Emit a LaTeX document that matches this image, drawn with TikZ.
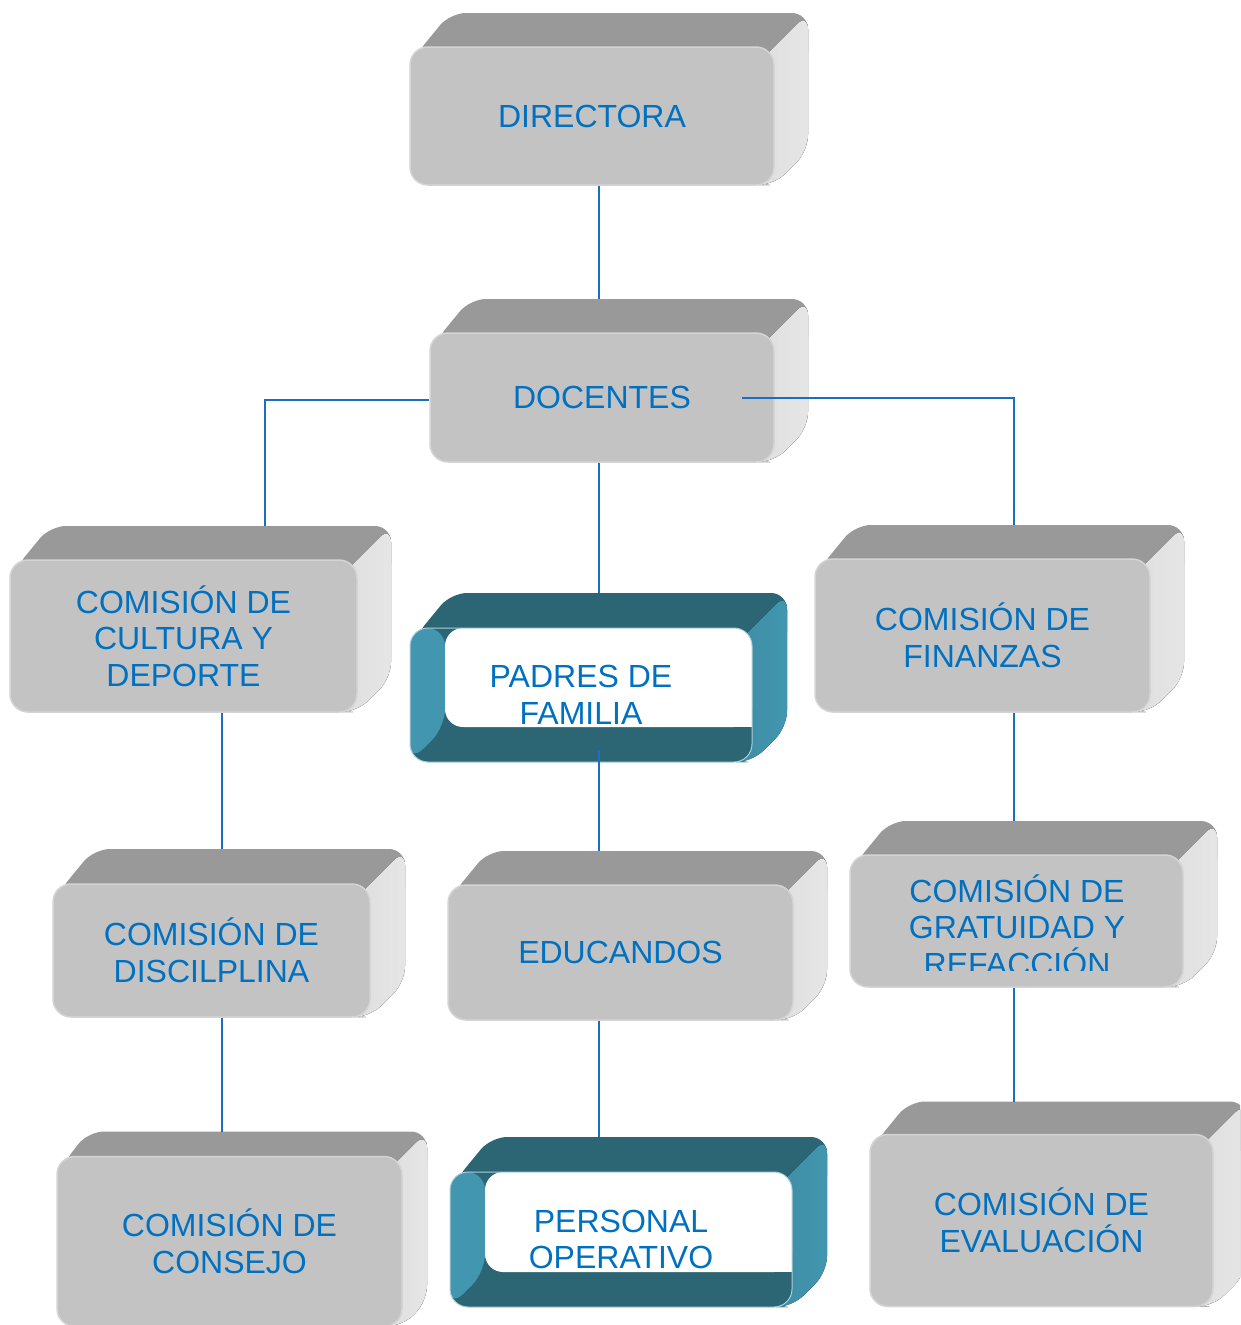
\documentclass[tikz,border=0pt]{standalone}
\usepackage{fontspec}
\setmainfont{Liberation Sans}

\definecolor{grisfrente}{RGB}{195,195,195}
\definecolor{grisborde}{RGB}{212,212,212}
\definecolor{gristapa}{RGB}{153,153,153}
\definecolor{tealoscuro}{RGB}{44,101,116}
\definecolor{tealclaro}{RGB}{66,150,175}
\definecolor{azultexto}{RGB}{0,112,192}
\definecolor{azullinea}{RGB}{28,110,192}

\tikzset{every picture/.style={line width=0.75pt}}
\tikzset{
  texto/.style={align=center, text=azultexto, font=\fontsize{32}{36.5}\selectfont, inner sep=0pt},
  frente/.style={texto, rectangle, rounded corners=18, fill=grisfrente, draw=grisborde, line width=1.5},
  frenteazul/.style={texto, rectangle, rounded corners=18, draw=tealclaro!45!white, line width=1},
  conector/.style={draw=azullinea, line width=1.6},
}

% caja gris: [fondo]{nombre}{cx}{cy}{ancho}{alto}{texto}
\newcommand{\cajagris}[7][34]{%
  \pgfmathsetmacro\cxa{#3-#5/2}\pgfmathsetmacro\cxb{#3+#5/2}%
  \pgfmathsetmacro\cya{#4-#6/2}\pgfmathsetmacro\cyb{#4+#6/2}%
  % tapa
  \fill[gristapa, rounded corners=16] (\cxa+4,\cya+10) -- (\cxa+#1+6,\cya-#1) -- (\cxb+#1,\cya-#1) -- (\cxb+#1,\cya+20) -- (\cxb-20,\cya+20) -- cycle;
  % lado
  \fill[left color=gristapa!32!white, right color=gristapa!25!white, rounded corners=16] (\cxb-20,\cya+20) -- (\cxb+#1,\cya-#1) -- (\cxb+#1,\cyb-#1) -- (\cxb,\cyb) -- (\cxb-20,\cyb) -- cycle;
  % frente
  \node[frente, minimum width=#5, minimum height=#6] (#2) at (#3,#4) {#7};
  \coordinate (#2-arriba) at (#3,\cya-#1);
}

% caja azul: [fondo]{nombre}{cx}{cy}{ancho}{alto}{texto}
\newcommand{\cajaazul}[7][35]{%
  \pgfmathsetmacro\cxa{#3-#5/2}\pgfmathsetmacro\cxb{#3+#5/2}%
  \pgfmathsetmacro\cya{#4-#6/2}\pgfmathsetmacro\cyb{#4+#6/2}%
  % tapa
  \fill[tealoscuro, rounded corners=16] (\cxa+4,\cya+10) -- (\cxa+#1+6,\cya-#1) -- (\cxb+#1,\cya-#1) -- (\cxb+#1,\cya+20) -- (\cxb-20,\cya+20) -- cycle;
  % lado
  \fill[left color=tealclaro!80!tealoscuro, right color=tealclaro, rounded corners=16] (\cxb-20,\cya+20) -- (\cxb+#1,\cya-#1) -- (\cxb+#1,\cyb-#1) -- (\cxb,\cyb) -- (\cxb-20,\cyb) -- cycle;
  % interior
  \fill[tealoscuro, rounded corners=18] (\cxa,\cya) rectangle (\cxb,\cyb);
  \fill[tealclaro, rounded corners=18] (\cxa+#1,\cya) -- (\cxa,\cya) -- (\cxa,\cyb) -- (\cxa+#1,\cyb-#1) -- cycle;
  \fill[white, rounded corners=18] (\cxa+#1,\cya) rectangle (\cxb,\cyb-#1);
  \fill[white] (\cxb-20,\cyb-#1-20) rectangle (\cxb,\cyb-#1);
  % frente
  \node[frenteazul, minimum width=#5, minimum height=#6] (#2) at (#3,#4) {#7};
  \coordinate (#2-arriba) at (#3,\cya-#1);
}

\begin{document}
\begin{tikzpicture}[x=1pt,y=1pt,yscale=-1,xscale=1]
\useasboundingbox (0,0) rectangle (1240,1325);
\clip (0,0) rectangle (1240,1325);

% cajas
\cajagris{dir}{592}{116}{364}{138}{DIRECTORA}
\cajagris{doc}{602}{397.5}{344}{129}{DOCENTES}
\cajagris{cul}{183.5}{636}{347}{152}{COMISIÓN DE\\CULTURA Y\\DEPORTE}
\cajaazul{pad}{581}{695}{342}{134}{PADRES DE\\FAMILIA}
\cajagris{fin}{982.5}{635.5}{335}{153}{COMISIÓN DE\\FINANZAS}
\cajagris[35]{dis}{211.5}{950.5}{317}{133}{COMISIÓN DE\\DISCILPLINA}
\cajagris{edu}{620.5}{952.5}{345}{135}{EDUCANDOS}
\cajagris{gra}{1016.5}{921}{333}{132}{}
\cajagris[25]{con}{229.5}{1241.5}{345}{170}{COMISIÓN DE\\CONSEJO}
\cajaazul{per}{621}{1239.5}{342}{135}{PERSONAL\\OPERATIVO}
\cajagris[33]{eva}{1041.5}{1220.5}{343}{172}{COMISIÓN DE\\EVALUACIÓN}

% texto recortado
\begin{scope}
  \clip (850,855) rectangle (1183,970);
  \node[texto] (gra-texto) at (1017,925) {COMISIÓN DE\\GRATUIDAD Y\\REFACCIÓN};
\end{scope}

% ejes
\coordinate (ejeC) at (599,0);
\coordinate (ejeI) at (265,0);
\coordinate (ejeII) at (222,0);
\coordinate (ejeD) at (1014,0);
\coordinate (docD) at (742,398);
\coordinate (padI) at (599,750);

% conectores
\draw[conector] (dir.south -| ejeC) -- (doc-arriba -| ejeC);
\draw[conector] ([yshift=2.5]doc.west) -| (cul-arriba -| ejeI);
\draw[conector] (docD) -| (fin-arriba -| ejeD);
\draw[conector] (doc.south -| ejeC) -- (pad-arriba -| ejeC);
\draw[conector] (padI) -- (edu-arriba -| ejeC);
\draw[conector] (cul.south -| ejeII) -- (dis-arriba -| ejeII);
\draw[conector] (dis.south -| ejeII) -- (con-arriba -| ejeII);
\draw[conector] (edu.south -| ejeC) -- (per-arriba -| ejeC);
\draw[conector] (fin.south -| ejeD) -- (gra-arriba -| ejeD);
\draw[conector] (gra.south -| ejeD) -- (eva-arriba -| ejeD);

\end{tikzpicture}
\end{document}
